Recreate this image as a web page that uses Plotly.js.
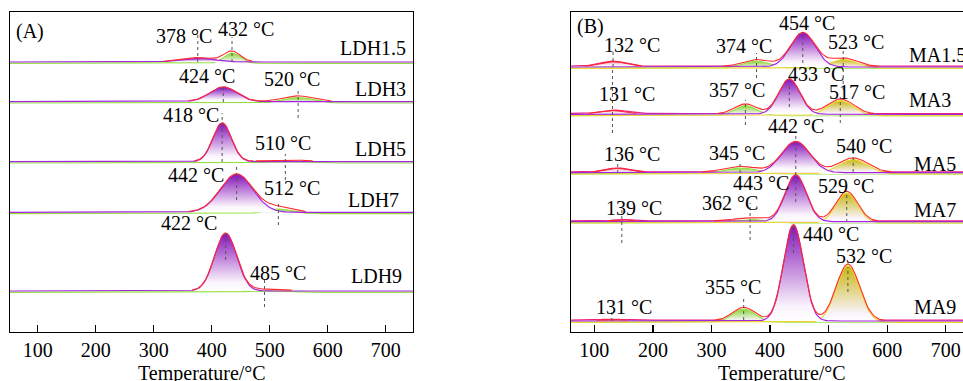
<!DOCTYPE html>
<html><head><meta charset="utf-8">
<script src="https://cdn.plot.ly/plotly-3.0.1.min.js"></script>
<style>html,body{margin:0;padding:0;overflow:hidden;background:#fff}#chart{width:990px;height:381px}</style>
</head><body><div id="chart"></div><script>
// ---------- Panel A data (peak fits) ----------
const ldhSamples = ['LDH1.5', 'LDH3', 'LDH5', 'LDH7', 'LDH9'];
const ldhPeakALabel = [378, 424, 418, 442, 422];
const ldhPeakACenter = [376, 420, 418, 443, 424];
const ldhPeakAHeight = [4, 14.5, 38.5, 38, 57.5];
const ldhPeakAWidth = [28, 23, 16, 28, 19];
const ldhPeakBLabel = [432, 520, 510, 512, 485];
const ldhPeakBCenter = [435, 549, 527, 515, 491];
const ldhPeakBHeight = [10.3, 5.5, 1.5, 4.6, 1.5];
const ldhPeakBWidth = [14, 25, 30, 22, 30];

// ---------- Panel B data (peak fits) ----------
const maSamples = ['MA1.5', 'MA3', 'MA5', 'MA7', 'MA9'];
const maPeak1Label = [132, 131, 136, 139, 131];
const maPeak1Center = [132, 131, 140, 147, 130];
const maPeak1Height = [5, 3.5, 4, 1.5, 1];
const maPeak1Width = [22, 20, 20, 15, 20];
const maPeak2Label = [374, 357, 345, 362, 355];
const maPeak2Center = [377, 358, 349, 366, 355];
const maPeak2Height = [7, 10, 6, 3.4, 13.3];
const maPeak2Width = [24, 19, 28, 30, 19];
const maPeak3Label = [454, 433, 442, 443, 440];
const maPeak3Center = [456, 433, 444, 444, 440];
const maPeak3Height = [34, 35, 31, 46.5, 96];
const maPeak3Width = [21, 18, 24, 18, 17];
const maPeak4Label = [523, 517, 540, 529, 532];
const maPeak4Center = [525, 520, 542, 531, 533];
const maPeak4Height = [8.7, 15, 14.4, 30, 56.5];
const maPeak4Width = [24, 22, 25, 18.5, 20];

const tempTicks = [100, 200, 300, 400, 500, 600, 700];

// ---------- layout / style config ----------
const W = 990, H = 381;
const PLOT_TOP = 12, PLOT_BOT = 331.5;
const FONT = {family: '"Liberation Serif", "Times New Roman", Times, serif', size: 20, color: '#000'};
const baseA = [62, 101.7, 161.7, 212.3, 291];      // screen y of row baselines
const baseB = [67, 114.3, 172.7, 221.7, 321];
const toY = py => PLOT_BOT - py;                   // y axis in pixel-like units

const COL = {
  purple: {line: '#a524e0', top: '#8412b8', off: 0},
  green:  {line: '#96e044', top: '#86d436', off: -1.3},
  yellow: {line: '#ead634', top: '#c8b510', off: -1.3},
  pink:   {line: '#f0207e', top: '#f29abd', off: 0.8},
  red:    {line: '#ff2a2a', off: 0.4}
};

const grid = [];
for (let t = 50; t <= 752; t += 2) grid.push(t);
const gauss = (t, c, h, s) => h * Math.exp(-((t - c) * (t - c)) / (2 * s * s));

const traces = [];
function peakTrace(xa, ya, base, c, h, s, col) {
  const y = grid.map(t => base + col.off + gauss(t, c, h, s));
  traces.push({
    x: grid, y: y, xaxis: xa, yaxis: ya, type: 'scatter', mode: 'lines',
    fill: 'toself',
    fillgradient: {type: 'vertical', colorscale: [[0, 'rgba(255,255,255,1)'], [0.15, 'rgba(250,244,252,1)'], [1, col.top]]},
    line: {color: col.line, width: 1.2}, hoverinfo: 'skip', showlegend: false
  });
}
function sumTrace(xa, ya, base, peaks) {
  const y = grid.map(t => {
    const v = peaks.reduce((a, p) => a + gauss(t, p[0], p[1], p[2]), 0);
    return v > 0.4 ? base + COL.red.off + v : null;
  });
  traces.push({x: grid, y: y, xaxis: xa, yaxis: ya, type: 'scatter', mode: 'lines',
    connectgaps: false,
    line: {color: COL.red.line, width: 1.1}, hoverinfo: 'skip', showlegend: false});
}

// Panel A rows
ldhSamples.forEach((s, i) => {
  const b = toY(baseA[i]);
  peakTrace('x', 'y', b, ldhPeakBCenter[i], ldhPeakBHeight[i], ldhPeakBWidth[i], COL.green);
  peakTrace('x', 'y', b, ldhPeakACenter[i], ldhPeakAHeight[i], ldhPeakAWidth[i], COL.purple);
  sumTrace('x', 'y', b, [[ldhPeakACenter[i], ldhPeakAHeight[i], ldhPeakAWidth[i]],
                         [ldhPeakBCenter[i], ldhPeakBHeight[i], ldhPeakBWidth[i]]]);
});
// Panel B rows
maSamples.forEach((s, i) => {
  const b = toY(baseB[i]);
  peakTrace('x2', 'y2', b, maPeak1Center[i], maPeak1Height[i], maPeak1Width[i], COL.pink);
  peakTrace('x2', 'y2', b, maPeak2Center[i], maPeak2Height[i], maPeak2Width[i], COL.green);
  peakTrace('x2', 'y2', b, maPeak4Center[i], maPeak4Height[i], maPeak4Width[i], COL.yellow);
  peakTrace('x2', 'y2', b, maPeak3Center[i], maPeak3Height[i], maPeak3Width[i], COL.purple);
  sumTrace('x2', 'y2', b, [[maPeak1Center[i], maPeak1Height[i], maPeak1Width[i]],
                           [maPeak2Center[i], maPeak2Height[i], maPeak2Width[i]],
                           [maPeak3Center[i], maPeak3Height[i], maPeak3Width[i]],
                           [maPeak4Center[i], maPeak4Height[i], maPeak4Width[i]]]);
});

// ---------- text / marker positions (screen px) ----------
const posA_labA = [[184, 36], [207, 76.5], [191, 115], [196, 174.5], [189, 222.5]];
const posA_labB = [[246, 29], [292, 79], [283, 143], [292, 187.5], [278, 272.5]];
const posA_name = [[407, 48], [407, 89], [407, 149], [400, 200], [403, 275.5]];
const dashA_A = [[33, 62], [87, 102], [113, 162], [165, 200], [232, 260]];
const dashA_B = [[37, 62], [88, 118], [154, 180], [203, 225], [278, 307]];

const posB_1 = [[632, 45], [627, 93.5], [632, 154.5], [633.5, 208], [623.5, 306.5]];
const posB_2 = [[744, 46], [737, 90], [737, 152.5], [730, 203], [733, 286.5]];
const posB_3 = [[807, 23.5], [816, 73.5], [796, 126], [761, 183.5], [831, 233.5]];
const posB_4 = [[856, 42], [857, 92.5], [864, 146], [846, 186], [864, 255.5]];
const posB_name = [[908, 55], [908, 99.5], [913, 164], [913, 209.5], [913, 306.5]];
const dashB_1 = [[50, 67], [67, 133], [163, 173], [210, 243], [312, 321]];
const dashB_2 = [[53, 78], [100, 125], [162, 173], [203, 240], [298, 320]];
const dashB_3 = [[32, 63], [83, 107], [133, 175], [178, 202], [225, 253]];
const dashB_4 = [[48, 90], [97, 123], [153, 172], [193, 222], [267, 292]];

const annotations = [];
const shapes = [];
const ann = (px, py, text, xanchor) => annotations.push({xref: 'paper', yref: 'paper',
  x: px / W, y: (H - py) / H, text: text, showarrow: false, xanchor: xanchor || 'center',
  yanchor: 'middle', font: FONT, borderpad: 0});
const dash = (xref, xc, seg) => shapes.push({type: 'line', xref: xref, yref: 'paper',
  x0: xc, x1: xc, y0: (H - seg[1]) / H, y1: (H - seg[0]) / H,
  line: {color: '#555', width: 1, dash: '3px,3px'}});

ldhSamples.forEach((s, i) => {
  ann(posA_labA[i][0], posA_labA[i][1], ldhPeakALabel[i] + ' \u00B0C');
  ann(posA_labB[i][0], posA_labB[i][1], ldhPeakBLabel[i] + ' \u00B0C');
  ann(posA_name[i][0], posA_name[i][1], s, 'right');
  dash('x', ldhPeakACenter[i], dashA_A[i]);
  dash('x', ldhPeakBCenter[i], dashA_B[i]);
});
maSamples.forEach((s, i) => {
  ann(posB_1[i][0], posB_1[i][1], maPeak1Label[i] + ' \u00B0C');
  ann(posB_2[i][0], posB_2[i][1], maPeak2Label[i] + ' \u00B0C');
  ann(posB_3[i][0], posB_3[i][1], maPeak3Label[i] + ' \u00B0C');
  ann(posB_4[i][0], posB_4[i][1], maPeak4Label[i] + ' \u00B0C');
  ann(posB_name[i][0], posB_name[i][1], s, 'left');
  dash('x2', maPeak1Center[i], dashB_1[i]);
  dash('x2', maPeak2Center[i], dashB_2[i]);
  dash('x2', maPeak3Center[i], dashB_3[i]);
  dash('x2', maPeak4Center[i], dashB_4[i]);
});
ann(30, 31, '(A)');
ann(590, 26, '(B)');
ann(202, 373, 'Temperature/\u00B0C');
ann(782, 373, 'Temperature/\u00B0C');

const xBase = {
  showline: true, linecolor: '#000', linewidth: 1.4, mirror: true,
  ticks: 'inside', ticklen: 7, tickwidth: 1.3, tickcolor: '#000',
  tickmode: 'array', tickvals: tempTicks, ticktext: tempTicks.map(String),
  tickfont: FONT, showgrid: false, zeroline: false, fixedrange: true
};
const yBase = {
  showline: true, linecolor: '#000', linewidth: 1.4, mirror: true,
  ticks: '', showticklabels: false, showgrid: false, zeroline: false,
  range: [0, PLOT_BOT - PLOT_TOP], domain: [(H - PLOT_BOT) / H, (H - PLOT_TOP) / H]
};

const layout = {
  width: W, height: H, margin: {l: 0, r: 0, t: 0, b: 0, pad: 0},
  paper_bgcolor: '#fff', plot_bgcolor: '#fff', showlegend: false,
  font: FONT,
  xaxis: Object.assign({}, xBase, {domain: [10 / W, 413 / W], range: [52.2, 747.1], anchor: 'y'}),
  yaxis: Object.assign({}, yBase, {anchor: 'x'}),
  xaxis2: Object.assign({}, xBase, {domain: [571 / W, 975 / W], range: [60.2, 750], anchor: 'y2'}),
  yaxis2: Object.assign({}, yBase, {anchor: 'x2'}),
  annotations: annotations, shapes: shapes
};

Plotly.newPlot('chart', traces, layout, {displayModeBar: false, staticPlot: true});
</script></body></html>
